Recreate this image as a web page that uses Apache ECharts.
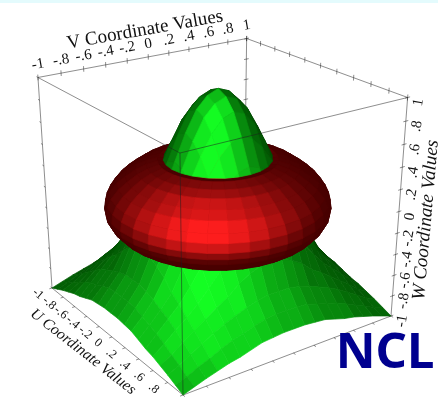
<!DOCTYPE html>
<html>
<head>
<meta charset="utf-8">
<style>
	html, body { margin: 0; padding: 0; background: #fff; }
	#chart { width: 438px; height: 397px; }
</style>
<script src="https://cdn.jsdelivr.net/npm/echarts@6/dist/echarts.min.js"></script>
</head>
<body>
<div id="chart"></div>
<script>
// tick labels, same on all three axes
var tickValues = [-1, -.8, -.6, -.4, -.2, 0, .2, .4, .6, .8, 1];
var tickLabels = ['-1', '-.8', '-.6', '-.4', '-.2', '0', '.2', '.4', '.6', '.8', '1'];

// green surface: W for one quadrant, the other three mirror it
var greenAxis = [0, .1, .2, .3, .4, .5, .6, .7, .8, .9, 1];
var greenW = [
	[.99, .95, .85, .67, .44, .21, -.03, -.29, -.52, -.65, -.77],
	[.95, .91, .81, .63, .41, .19, -.05, -.30, -.52, -.65, -.77],
	[.85, .81, .70, .53, .33, .12, -.10, -.34, -.54, -.66, -.78],
	[.67, .63, .53, .38, .21, .01, -.19, -.40, -.57, -.69, -.79],
	[.44, .41, .33, .21, .05, -.12, -.30, -.49, -.61, -.72, -.82],
	[.21, .19, .12, .01, -.12, -.27, -.42, -.55, -.65, -.75, -.85],
	[-.03, -.05, -.10, -.19, -.30, -.42, -.53, -.62, -.70, -.79, -.87],
	[-.29, -.30, -.34, -.40, -.49, -.55, -.62, -.69, -.76, -.84, -.90],
	[-.52, -.52, -.54, -.57, -.61, -.65, -.70, -.76, -.82, -.88, -.93],
	[-.65, -.65, -.66, -.69, -.72, -.75, -.79, -.84, -.88, -.93, -.965],
	[-.77, -.77, -.78, -.79, -.82, -.85, -.87, -.90, -.93, -.965, -1]
];
// height where the peak comes out of the torus
var ringW = .38;

// red torus: cross section (radius, W), swept round the W axis
var torusR = [.89, .88, .85, .79, .72, .64, .56, .47, .40, .33, .30, .33, .40, .48, .56, .64, .72, .79, .85, .88];
var torusW = [-.05, .03, .10, .18, .24, .30, .34, .37, .36, .15, -.05, -.20, -.27, -.31, -.32, -.32, -.29, -.24, -.17, -.11];
var torusAngles = [0, 10, 20, 30, 40, 50, 60, 70, 80, 90, 100, 110, 120, 130, 140, 150, 160, 170, 180, 190, 200, 210, 220, 230, 240, 250, 260, 270, 280, 290, 300, 310, 320, 330, 340, 350];

// camera, fitted to the corners of the box
var origin = [183, 395];
var edgeX = [-121.4, -54];
var edgeY = [259.6, -37.3];
var edgeZ = [-20.3, -256.7];
var persp = [.184, .132, -.096];
var light = [.66, -.57, .49];

function denom(u, v, w) {
	return 1 + persp[0] * (1 - u) / 2 + persp[1] * (v + 1) / 2 + persp[2] * (w + 1) / 2;
}

function project(u, v, w) {
	var x = (1 - u) / 2, y = (v + 1) / 2, z = (w + 1) / 2;
	var d = denom(u, v, w);
	return [
		(origin[0] + edgeX[0] * x + edgeY[0] * y + edgeZ[0] * z) / d,
		(origin[1] + edgeX[1] * x + edgeY[1] * y + edgeZ[1] * z) / d
	];
}

function normalOf(p) {
	var a = [p[2][0] - p[0][0], p[2][1] - p[0][1], p[2][2] - p[0][2]];
	var b = [p[3][0] - p[1][0], p[3][1] - p[1][1], p[3][2] - p[1][2]];
	var n = [a[1] * b[2] - a[2] * b[1], a[2] * b[0] - a[0] * b[2], a[0] * b[1] - a[1] * b[0]];
	var len = Math.sqrt(n[0] * n[0] + n[1] * n[1] + n[2] * n[2]) || 1;
	return [n[0] / len, n[1] / len, n[2] / len];
}

function centerOf(p) {
	var c = [0, 0, 0];
	p.forEach(function(q) {
		c[0] += q[0] / p.length;
		c[1] += q[1] / p.length;
		c[2] += q[2] / p.length;
	});
	return c;
}

function shade(n) {
	return Math.max(0, n[0] * light[0] + n[1] * light[1] + n[2] * light[2]);
}

function greenColor(t) {
	var s = .3 * t + .7 * Math.pow(t, 4);
	return 'rgb(' + Math.round(20 * s) + ',' + Math.round(70 + 185 * s) + ',' + Math.round(35 * s) + ')';
}

function redColor(t) {
	var s = Math.pow(t, 4);
	return 'rgb(' + Math.round(70 + 190 * s) + ',' + Math.round(30 * s) + ',' + Math.round(30 * s) + ')';
}

// cut a facet at W = level, keep one side
function clipW(p, level, above) {
	var out = [];
	for (let i = 0; i < p.length; i++) {
		let a = p[i], b = p[(i + 1) % p.length];
		let ina = above ? a[2] >= level : a[2] < level;
		let inb = above ? b[2] >= level : b[2] < level;
		if (ina) out.push(a);
		if (ina !== inb) {
			let t = (level - a[2]) / (b[2] - a[2]);
			out.push([a[0] + (b[0] - a[0]) * t, a[1] + (b[1] - a[1]) * t, level]);
		}
	}
	return out;
}

var facets = [];

// layer 0 skirt, 1 torus, 2 peak top
function addFacet(p, color, layer) {
	if (p.length < 3) return;
	var c = centerOf(p);
	facets.push({
		pts: p.map(function(q) { return project(q[0], q[1], q[2]); }),
		depth: denom(c[0], c[1], c[2]),
		layer: layer,
		color: color
	});
}

var greenU = [], greenIdx = [];
for (let i = greenAxis.length - 1; i > 0; i--) {
	greenU.push(-greenAxis[i]);
	greenIdx.push(i);
}
for (let i = 0; i < greenAxis.length; i++) {
	greenU.push(greenAxis[i]);
	greenIdx.push(i);
}

for (let i = 0; i < greenU.length - 1; i++) {
	for (let j = 0; j < greenU.length - 1; j++) {
		let p = [
			[greenU[i], greenU[j], greenW[greenIdx[j]][greenIdx[i]]],
			[greenU[i + 1], greenU[j], greenW[greenIdx[j]][greenIdx[i + 1]]],
			[greenU[i + 1], greenU[j + 1], greenW[greenIdx[j + 1]][greenIdx[i + 1]]],
			[greenU[i], greenU[j + 1], greenW[greenIdx[j + 1]][greenIdx[i]]]
		];
		let n = normalOf(p);
		if (n[2] < 0) n = [-n[0], -n[1], -n[2]];
		let col = greenColor(shade(n));
		addFacet(clipW(p, ringW, false), col, 0);
		addFacet(clipW(p, ringW, true), col, 2);
	}
}

function torusPoint(k, a) {
	var ang = torusAngles[a] * Math.PI / 180;
	return [torusR[k] * Math.cos(ang), torusR[k] * Math.sin(ang), torusW[k]];
}

for (let k = 0; k < torusR.length; k++) {
	let k2 = (k + 1) % torusR.length;
	for (let a = 0; a < torusAngles.length; a++) {
		let a2 = (a + 1) % torusAngles.length;
		let p = [torusPoint(k, a), torusPoint(k2, a), torusPoint(k2, a2), torusPoint(k, a2)];
		let n = normalOf(p);
		let c = centerOf(p);
		let r = Math.sqrt(c[0] * c[0] + c[1] * c[1]) || 1;
		// outward from the middle of the tube
		let out = (c[0] / r) * (r - .6) * n[0] + (c[1] / r) * (r - .6) * n[1] + (c[2] - .02) * n[2];
		if (out < 0) n = [-n[0], -n[1], -n[2]];
		addFacet(p, redColor(shade(n)), 1);
	}
}

facets.sort(function(a, b) { return a.layer - b.layer || b.depth - a.depth; });

// box edges and ticks
var backLines = [], frontLines = [];
var T = .025;
backLines.push([[-1, -1, 1], [-1, 1, 1]]);
backLines.push([[-1, 1, 1], [1, 1, 1]]);
backLines.push([[-1, 1, 1], [-1, 1, -1]]);
backLines.push([[-1, -1, 1], [-1, -1, -1]]);
backLines.push([[1, 1, 1], [1, 1, -1]]);
backLines.push([[-1, -1, -1], [1, -1, -1]]);
backLines.push([[1, -1, -1], [1, 1, -1]]);
frontLines.push([[-1, -1, 1], [1, -1, 1]]);
frontLines.push([[1, -1, 1], [1, 1, 1]]);
frontLines.push([[1, -1, 1], [1, -1, -1]]);
tickValues.forEach(function(t) {
	backLines.push([[-1, t, 1 - T], [-1, t, 1 + T]]);
	backLines.push([[t, 1, 1 - T], [t, 1, 1 + T]]);
	backLines.push([[-1, 1 - T, t], [-1, 1 + T, t]]);
	backLines.push([[-1 - T, -1, t], [-1, -1, t]]);
	backLines.push([[1, 1 - T, t], [1, 1 + T, t]]);
	backLines.push([[t, -1, -1], [t, -1 - T, -1]]);
	backLines.push([[1, t, -1], [1 + T, t, -1]]);
});

function lineItem(seg, api) {
	var a = project(seg[0][0], seg[0][1], seg[0][2]);
	var b = project(seg[1][0], seg[1][1], seg[1][2]);
	var p1 = api.coord(a), p2 = api.coord(b);
	return {
		type: 'line',
		shape: { x1: p1[0], y1: p1[1], x2: p2[0], y2: p2[1] },
		style: { stroke: 'rgba(30,30,30,0.5)', lineWidth: 1 }
	};
}

var labels = [];
tickValues.forEach(function(t, i) {
	var pv = project(-1, t, 1);
	labels.push({ x: pv[0], y: pv[1] - 13, rot: 10, text: tickLabels[i], font: '15px "Liberation Serif"' });
	var pw = project(1, 1, t);
	labels.push({ x: pw[0] + 11, y: pw[1] + 5, rot: 80, text: tickLabels[i], font: '15px "Liberation Serif"' });
	if (t < 1) {
		var pu = project(t, -1, -1);
		labels.push({ x: pu[0] - 14, y: pu[1] + 6, rot: -40, text: tickLabels[i], font: '12.5px "Liberation Serif"' });
	}
});
labels.push({ x: 145, y: 30, rot: 10, text: 'V Coordinate Values', font: '19px "Liberation Serif"' });
labels.push({ x: 426, y: 220, rot: 85, text: 'W Coordinate Values', font: 'italic 19px "Liberation Serif"' });
labels.push({ x: 83, y: 352, rot: -38, text: 'U Coordinate Values', font: 'italic 15.5px "Liberation Serif"' });
labels.push({ x: 385, y: 354, rot: 0, text: 'NCL', font: 'bold 49px "Noto Sans"', fill: '#00008f' });

function indexes(list) {
	return list.map(function(d, i) { return [i]; });
}

var chart = echarts.init(document.getElementById('chart'));
chart.setOption({
	animation: false,
	backgroundColor: '#fff',
	graphic: [{
		type: 'rect',
		shape: { x: 0, y: 0, width: 438, height: 3 },
		style: { fill: '#e4fbfd' },
		silent: true
	}],
	grid: { left: 0, right: 0, top: 0, bottom: 0 },
	xAxis: { type: 'value', min: 0, max: 438, show: false },
	yAxis: { type: 'value', min: 0, max: 397, inverse: true, show: false },
	series: [{
		type: 'custom',
		silent: true,
		clip: false,
		data: indexes(backLines),
		renderItem: function(params, api) {
			return lineItem(backLines[params.dataIndex], api);
		}
	}, {
		type: 'custom',
		silent: true,
		clip: false,
		data: indexes(facets),
		renderItem: function(params, api) {
			var f = facets[params.dataIndex];
			return {
				type: 'polygon',
				shape: { points: f.pts.map(function(p) { return api.coord(p); }) },
				style: { fill: f.color, stroke: f.color, lineWidth: .7 }
			};
		}
	}, {
		type: 'custom',
		silent: true,
		clip: false,
		data: indexes(frontLines),
		renderItem: function(params, api) {
			return lineItem(frontLines[params.dataIndex], api);
		}
	}, {
		type: 'custom',
		silent: true,
		clip: false,
		data: indexes(labels),
		renderItem: function(params, api) {
			var l = labels[params.dataIndex];
			var p = api.coord([l.x, l.y]);
			return {
				type: 'text',
				x: p[0],
				y: p[1],
				rotation: l.rot * Math.PI / 180,
				style: {
					text: l.text,
					font: l.font,
					fill: l.fill || '#111',
					align: 'center',
					verticalAlign: 'middle'
				}
			};
		}
	}]
});
</script>
</body>
</html>
